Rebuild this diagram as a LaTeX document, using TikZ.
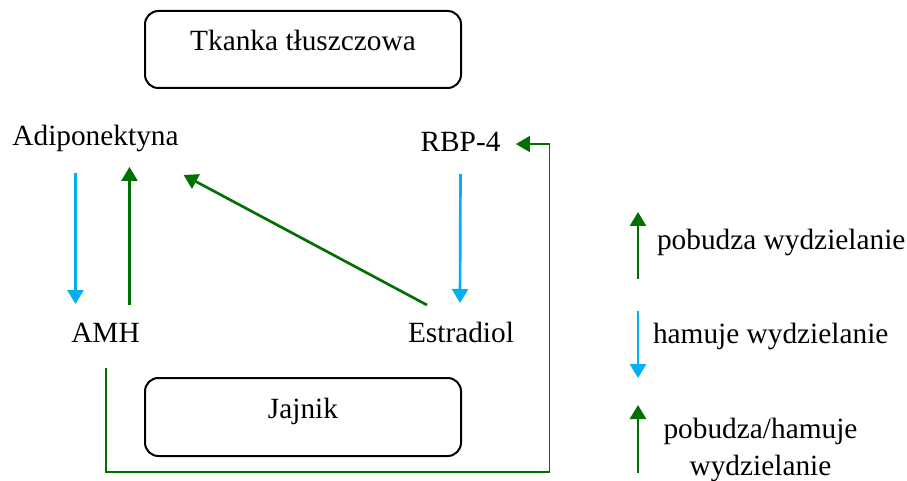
\documentclass[tikz,border=0pt]{standalone}
\usepackage{fontspec}
\setmainfont{Liberation Serif}
\usetikzlibrary{arrows.meta,calc}
\definecolor{actgreen}{RGB}{0,112,0}
\definecolor{inhblue}{RGB}{0,176,240}
\begin{document}
\begin{tikzpicture}[x=0.75pt,y=-0.75pt,
  every node/.style={font=\fontsize{22}{27.75}\selectfont, inner sep=0pt, outer sep=0pt},
  organ/.style={draw=black, line width=1.5pt, rounded corners=10pt,
                minimum width=237pt, text height=30pt, anchor=north west},
  lbl/.style={text height=15pt, text depth=5pt, anchor=base},
  tipped/.style={-{Triangle[width=12pt,length=10.5pt]}},
  act/.style={tipped, actgreen, line width=2pt},
  inh/.style={tipped, inhblue, line width=2pt},
  feedback/.style={tipped, actgreen, line width=1.4pt},
]
\useasboundingbox (0,0) rectangle (907,481);

% organs
\node[organ, text depth=27.75pt] (tk) at (145,11) {Tkanka tłuszczowa};
\node[organ, text depth=28.5pt]  (jaj) at (145,378) {Jajnik};

% hormones
\node[lbl] (adi) at (95.5,146) {Adiponektyna};
\node[lbl] (rbp) at (460.5,152) {RBP-4};
\node[lbl] (amh) at (105.5,342) {AMH};
\node[lbl] (est) at (461,342) {Estradiol};

% interactions
\draw[inh] ([shift={(-20,20.3)}]adi.south) -- ([shift={(-30,-18)}]amh.north);
\draw[act] ([shift={(24,-17)}]amh.north) -- ([shift={(34,14.3)}]adi.south);
\draw[act] ([shift={(-34,-17)}]est.north) -- ([shift={(5,22.3)}]adi.south east);
\draw[inh] ([shift={(0,15.3)}]rbp.south) -- ([shift={(-1,-19)}]est.north);
\coordinate (loop) at (549.5,472);
\draw[feedback, line join=miter] ([shift={(0.5,19.3)}]amh.south) |- (loop)
  |- ([shift={(15.5,-1.3)}]rbp.east);

% legend
\coordinate (l1a) at (638,279); \coordinate (l1b) at (638,212);
\coordinate (l2a) at (638,311); \coordinate (l2b) at (638,378);
\coordinate (l3a) at (638,473); \coordinate (l3b) at (638,405);
\draw[act] (l1a) -- (l1b);
\draw[inh] (l2a) -- (l2b);
\draw[act] (l3a) -- (l3b);
\node[anchor=base west] (leg1) at (657,249) {pobudza wydzielanie};
\node[anchor=base west] (leg2) at (653,343) {hamuje wydzielanie};
\node[anchor=base, align=center] (leg3) at (760.5,475) {pobudza/hamuje\\wydzielanie};
\end{tikzpicture}
\end{document}
